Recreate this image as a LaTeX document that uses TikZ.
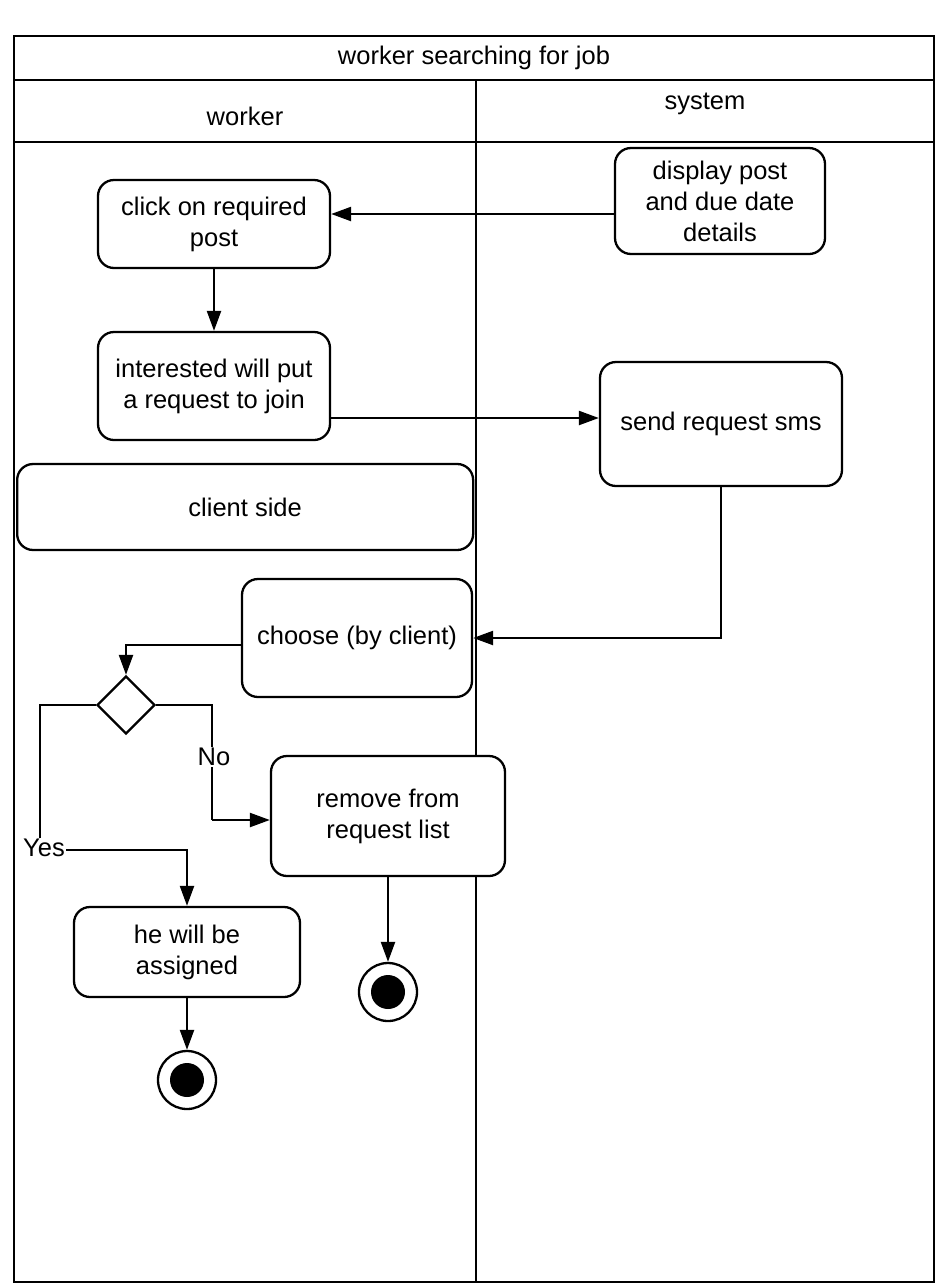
\documentclass[tikz,border=0pt]{standalone}
\usepackage{fontspec}
\setmainfont{Liberation Sans}
\usetikzlibrary{arrows.meta,shapes.geometric}
\begin{document}
\begin{tikzpicture}[x=1pt,y=-1pt,
  act/.style={draw,line width=2.3pt,rounded corners=16pt,align=center,inner sep=0pt},
  flow/.style={line width=2.3pt,-{Triangle[length=20pt,width=14pt]}},
  lane/.style={line width=2pt},
  txt/.style={font=\fontsize{25.5}{31}\selectfont}
]
\useasboundingbox (0,0) rectangle (944,1286);
% frame
\draw[lane] (14,36) rectangle (934,1282);
\draw[lane] (14,80) -- (934,80);
\draw[lane] (14,142) -- (934,142);
\draw[lane] (476,80) -- (476,1282);
\node[txt] (title) at (474,58) {worker searching for job};
\node[txt] (wlane) at (245,116) {worker};
\node[txt] (slane) at (705,104) {system};
% nodes
\node[act,txt,minimum width=210pt,minimum height=106pt,fill=white] (disp) at (720,201) {display post\\and due date\\details};
\node[act,txt,minimum width=232pt,minimum height=88pt] (click) at (214,224) {click on required\\post};
\node[act,txt,minimum width=232pt,minimum height=108pt] (inter) at (214,386) {interested will put\\a request to join};
\node[act,txt,minimum width=242pt,minimum height=124pt] (send) at (721,424) {send request sms};
\node[act,txt,minimum width=456pt,minimum height=86pt,fill=white,anchor=west] (client) at (16,507) {client side};
\node[act,txt,minimum width=230pt,minimum height=118pt,fill=white] (choose) at (357,638) {choose (by client)};
\node[draw,line width=2.3pt,diamond,minimum width=58pt,minimum height=58pt,inner sep=0pt] (dec) at (126,705) {};
\node[act,txt,minimum width=234pt,minimum height=120pt,fill=white] (remove) at (388,816) {remove from\\request list};
\node[act,txt,minimum width=226pt,minimum height=90pt] (assign) at (187,952) {he will be\\assigned};
\node[draw,circle,line width=2.3pt,minimum size=58pt,inner sep=0pt] (end1) at (187,1080) {};
\fill (end1) circle (17pt);
\node[draw,circle,line width=2.3pt,minimum size=58pt,inner sep=0pt] (end2) at (388,992) {};
\fill (end2) circle (17pt);
% flows
\draw[flow] (disp.west |- 0,214) -- (click.east |- 0,214);
\draw[flow] (click) -- (inter);
\draw[flow] (inter.east |- 0,418) -- (send.west |- 0,418);
\draw[flow] (send.south) |- (choose.east);
\draw[flow] (choose.west |- 0,645) -| (dec.north);
\coordinate (ycorner) at (40,850);
\draw[line width=2.3pt] (dec.west) -| (ycorner);
\draw[flow] (ycorner) -| (assign.north);
\node[txt,fill=white,inner sep=1pt] (yes) at (44,848) {Yes};
\coordinate (ncorner) at (212,820);
\draw[line width=2.3pt] (dec.east) -| (ncorner);
\draw[flow] (ncorner) -- (remove.west |- ncorner);
\node[txt,fill=white,inner sep=1pt] (no) at (214,757) {No};
\draw[flow] (remove.south) -- (end2.north);
\draw[flow] (assign.south) -- (end1.north);
\end{tikzpicture}
\end{document}
